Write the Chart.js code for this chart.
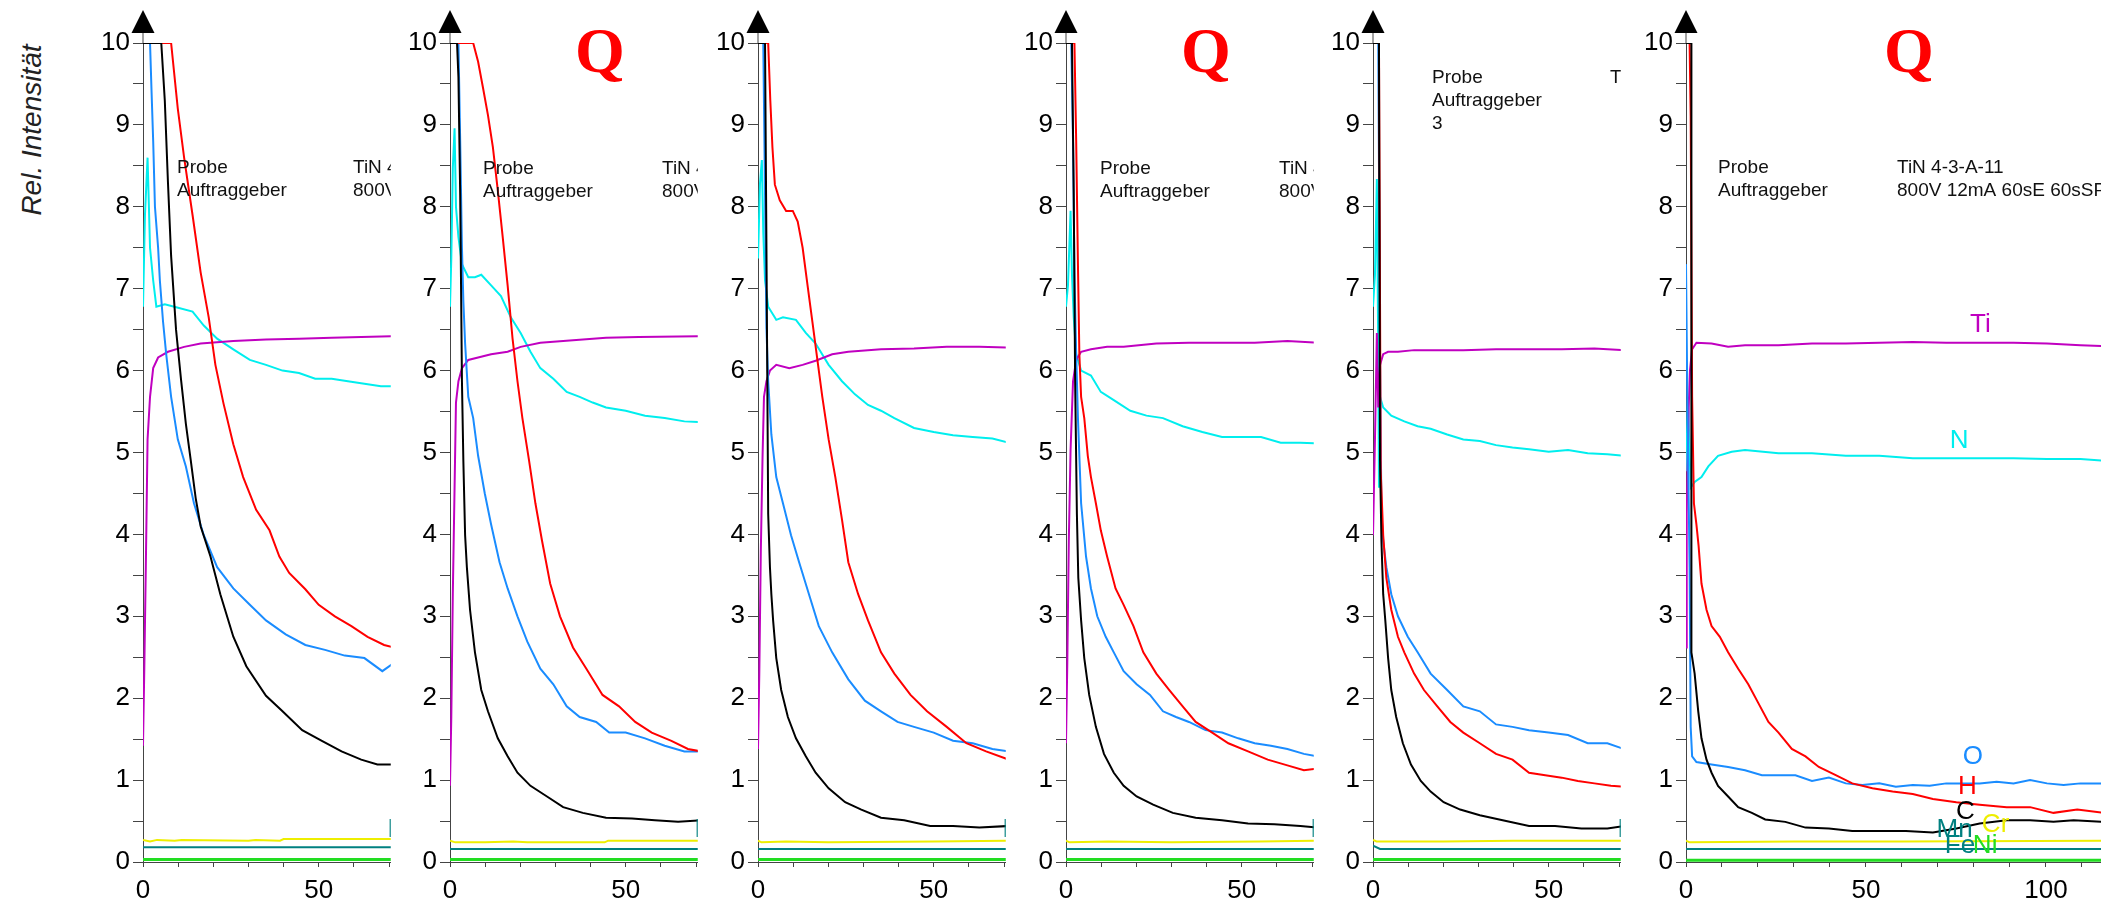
<!DOCTYPE html>
<html>
<head>
<meta charset="utf-8">
<script src="https://cdn.jsdelivr.net/npm/chart.js@4.4.1/dist/chart.umd.min.js"></script>
<style>
  body { margin: 0; background: #fff; width: 2101px; height: 907px; overflow: hidden; position: relative; }
  .panel { position: absolute; top: 0; }
  #ytitle {
    position: absolute; left: 32px; top: 130px;
    transform: translate(-50%, -50%) rotate(-90deg);
    font: italic 28px "Liberation Sans", Arial, sans-serif; color: #222; white-space: nowrap;
  }
</style>
</head>
<body>
<div id="ytitle">Rel. Intensität</div>
<script>
// Messwerte je Panel: [Zeit, rel. Intensität]
// Panel 1
const h1 = [[0,10],[8,10],[9.9,9.2],[11.7,8.6],[14.1,7.9],[16.4,7.2],[18.7,6.65],[20.6,6.07],[22.9,5.6],[25.7,5.1],[28.5,4.7],[32.2,4.3],[36,4.05],[38.8,3.73],[41.6,3.53],[46.2,3.33],[50,3.14],[54.6,3.0],[59.3,2.88],[63.9,2.75],[68.6,2.65],[71.4,2.62]];
const c1 = [[0,10],[5.2,10],[6.2,9.3],[7.1,8.3],[8,7.4],[9.4,6.5],[10.8,5.9],[12.2,5.35],[13.6,4.9],[15,4.44],[16.4,4.1],[19.2,3.73],[22,3.27],[25.7,2.75],[29.4,2.39],[35,2.03],[39.7,1.84],[45.3,1.61],[50.9,1.48],[56.5,1.35],[62.1,1.25],[66.7,1.19],[71.4,1.19]];
const o1 = [[0,10],[2,10],[2.4,9.45],[2.9,8.8],[3.4,8.0],[4.3,7.5],[4.8,7.1],[5.7,6.6],[6.6,6.2],[8,5.68],[9.9,5.16],[12.2,4.83],[14.5,4.38],[17.3,3.99],[21.1,3.6],[25.7,3.34],[30.4,3.14],[35,2.95],[40.6,2.78],[46.2,2.65],[51.8,2.59],[57.4,2.52],[63,2.49],[68.1,2.33],[71.4,2.43]];
const n1 = [[0,6.78],[0.56,7.9],[1.3,8.6],[2,7.5],[2.9,7.1],[3.8,6.78],[6.2,6.81],[8.9,6.78],[14.1,6.72],[17.3,6.55],[21.1,6.39],[25.7,6.26],[30.4,6.13],[35,6.07],[39.7,6.0],[44.4,5.97],[49,5.9],[53.7,5.9],[58.3,5.87],[63,5.84],[67.7,5.81],[71.4,5.81]];
const ti1 = [[0,1.42],[0.37,2.36],[0.8,3.6],[1.3,5.16],[2,5.68],[2.9,6.03],[4.3,6.16],[7.1,6.23],[11.7,6.29],[16.4,6.33],[25.7,6.36],[35,6.38],[44.4,6.39],[53.7,6.4],[71.4,6.42]];
const cr1 = [[0,0.27],[2,0.25],[4,0.27],[9,0.26],[11,0.27],[30,0.26],[32,0.27],[39,0.26],[40,0.28],[72,0.28]];
const mn1 = [[0,0.18],[72,0.18]];
const ni1 = [[0,0.03],[72,0.03]];

// Panel 2
const h2 = [[0,10],[6.6,10],[8,9.77],[9.4,9.45],[10.8,9.12],[12.2,8.73],[13.6,8.2],[15,7.63],[16.4,7.04],[17.8,6.39],[19.2,5.87],[20.6,5.42],[22.5,4.9],[24.3,4.38],[26.2,3.92],[28.5,3.4],[31.3,3.0],[35,2.62],[38.8,2.36],[43.4,2.04],[48.1,1.9],[52.7,1.71],[57.4,1.58],[63,1.48],[67.7,1.38],[71.4,1.35]];
const c2 = [[0,10],[2,10],[2.4,9.58],[2.9,8.15],[3.4,5.87],[3.8,4.9],[4.3,3.99],[4.8,3.6],[5.7,3.08],[7.1,2.56],[8.9,2.1],[10.8,1.84],[13.6,1.51],[16.4,1.29],[19.2,1.09],[22.9,0.93],[27.6,0.8],[32.2,0.67],[37.8,0.6],[44.4,0.54],[51.8,0.53],[58.3,0.51],[64.9,0.49],[71.4,0.51]];
const o2 = [[0,10],[2.4,10],[2.9,8.8],[3.4,7.5],[3.8,6.85],[4.3,6.33],[5.2,5.68],[6.6,5.42],[8,4.96],[9.9,4.5],[11.7,4.12],[14.1,3.66],[16.4,3.34],[19.2,3.0],[22,2.69],[25.7,2.36],[29.4,2.17],[33.2,1.9],[36.9,1.77],[41.6,1.71],[45.3,1.58],[50,1.58],[55.5,1.51],[61.1,1.42],[66.7,1.35],[71.4,1.35]];
const n2 = [[0,6.78],[0.37,7.37],[0.8,8.47],[1.3,8.96],[1.7,8.0],[2.4,7.63],[3.4,7.3],[5.2,7.14],[7.1,7.14],[8.9,7.17],[11.7,7.04],[14.5,6.91],[17.3,6.65],[20.1,6.46],[22.9,6.23],[25.7,6.03],[29.4,5.9],[33.2,5.74],[36.9,5.68],[40.6,5.61],[44.4,5.55],[50,5.51],[55.5,5.45],[61.1,5.42],[66.7,5.38],[71.4,5.37]];
const ti2 = [[0,0.93],[0.37,1.77],[0.8,3.27],[1.3,4.57],[1.7,5.61],[2.4,5.87],[3.4,6.03],[5.2,6.13],[8,6.16],[11.7,6.2],[16.4,6.23],[20.1,6.29],[25.7,6.34],[35,6.37],[44.4,6.4],[53.7,6.41],[71.4,6.42]];
const cr2 = [[0,0.26],[1.5,0.24],[10,0.24],[18,0.25],[22,0.24],[44,0.24],[45,0.26],[72,0.26]];
const mn2 = [[0,0.16],[72,0.16]];
const ni2 = [[0,0.03],[72,0.03]];

// Panel 3
const h3 = [[0,10],[2.9,10],[3.5,9.3],[4.1,8.73],[4.8,8.27],[6.2,8.08],[8,7.95],[9.9,7.95],[11.3,7.82],[12.7,7.5],[14.1,7.04],[15.5,6.59],[16.9,6.13],[18.3,5.68],[20.1,5.16],[22,4.7],[23.9,4.18],[25.7,3.66],[28.5,3.27],[31.3,2.95],[35,2.56],[38.8,2.3],[43.4,2.04],[48.1,1.84],[53.7,1.65],[59.3,1.45],[64.9,1.35],[71.4,1.25]];
const c3 = [[0,10],[2,10],[2.4,7.5],[2.9,4.25],[3.4,3.6],[3.8,3.27],[4.3,2.95],[5.2,2.49],[6.6,2.1],[8.5,1.77],[10.8,1.51],[13.6,1.29],[16.4,1.09],[20.1,0.9],[24.8,0.73],[29.4,0.64],[35,0.54],[41.6,0.51],[49,0.44],[55.5,0.44],[63,0.42],[71.4,0.44]];
const o3 = [[0,10],[1.5,10],[2,8.15],[2.4,6.52],[2.9,5.87],[3.8,5.22],[5.2,4.7],[7.1,4.38],[9.4,3.99],[11.7,3.66],[14.5,3.27],[17.3,2.88],[21.1,2.56],[25.7,2.23],[30.4,1.97],[35,1.84],[39.7,1.71],[44.4,1.65],[50,1.58],[55.5,1.48],[61.1,1.45],[66.7,1.38],[71.4,1.35]];
const n3 = [[0,7.37],[0.56,8.28],[1.1,8.57],[1.5,7.69],[2,7.1],[2.9,6.78],[5.2,6.62],[7.1,6.65],[10.8,6.62],[13.6,6.46],[16.4,6.33],[20.1,6.07],[23.9,5.87],[27.6,5.71],[31.3,5.58],[35,5.51],[38.8,5.42],[44.4,5.3],[50,5.25],[55.5,5.21],[61.1,5.19],[66.7,5.17],[71.4,5.12]];
const ti3 = [[0,1.38],[0.37,2.3],[0.8,3.79],[1.3,4.96],[1.7,5.68],[2.4,5.87],[3.4,6.0],[5.2,6.07],[8.9,6.03],[12.7,6.07],[16.4,6.12],[21.1,6.2],[25.7,6.23],[35,6.26],[44.4,6.27],[53.7,6.29],[63,6.29],[71.4,6.28]];
const cr3 = [[0,0.26],[1,0.24],[8,0.25],[20,0.24],[50,0.25],[72,0.26]];
const mn3 = [[0,0.16],[72,0.16]];
const ni3 = [[0,0.03],[72,0.03]];

// Panel 4
const h4 = [[0,10],[2.4,10],[2.9,8.8],[3.4,7.3],[3.8,6.2],[4.3,5.68],[5.2,5.42],[6.2,4.96],[7.1,4.7],[8.5,4.38],[9.9,4.05],[11.7,3.73],[14.1,3.34],[16.4,3.14],[19.2,2.88],[22,2.56],[25.7,2.3],[29.4,2.1],[33.2,1.9],[36.9,1.71],[41.6,1.58],[46.2,1.45],[51.8,1.35],[57.4,1.25],[63,1.18],[67.7,1.12],[71.4,1.14]];
const c4 = [[0,10],[1.7,10],[2.2,8.15],[2.6,5.87],[3.1,4.25],[3.5,3.47],[4.3,2.95],[5.2,2.49],[6.6,2.04],[8.5,1.65],[10.8,1.32],[13.6,1.09],[16.4,0.93],[20.1,0.8],[24.8,0.7],[30.4,0.6],[36.9,0.54],[44.4,0.51],[51.8,0.47],[59.3,0.46],[66.7,0.44],[71.4,0.42]];
const o4 = [[0,10],[1.5,10],[2,8.8],[2.4,7.17],[2.9,6.2],[3.4,5.42],[4.3,4.38],[5.7,3.73],[7.1,3.34],[8.9,3.0],[11.3,2.75],[13.6,2.56],[16.4,2.33],[20.1,2.17],[23.9,2.04],[27.6,1.84],[31.3,1.77],[35,1.71],[39.7,1.61],[44.4,1.58],[49,1.51],[53.7,1.45],[58.3,1.42],[63,1.38],[67.7,1.32],[71.4,1.29]];
const n4 = [[0,6.78],[0.56,7.04],[1.3,7.95],[1.7,7.17],[2.2,6.65],[2.9,6.2],[4.3,6.0],[7.1,5.94],[9.9,5.74],[13.6,5.64],[18.3,5.51],[22.9,5.45],[27.6,5.42],[33.2,5.32],[38.8,5.25],[44.4,5.19],[50,5.19],[55.5,5.19],[61.1,5.12],[66.7,5.12],[71.4,5.11]];
const ti4 = [[0,1.45],[0.37,2.43],[0.8,3.92],[1.3,5.03],[2,5.87],[2.9,6.13],[4.3,6.23],[7.1,6.26],[11.7,6.29],[16.4,6.29],[25.7,6.33],[35,6.34],[44.4,6.34],[53.7,6.34],[63,6.36],[71.4,6.34]];
const cr4 = [[0,0.26],[1,0.24],[12,0.25],[30,0.24],[55,0.25],[72,0.26]];
const mn4 = [[0,0.16],[72,0.16]];
const ni4 = [[0,0.03],[72,0.03]];

// Panel 5
const h5 = [[0,10],[1.7,10],[2.2,4.77],[2.9,3.99],[3.8,3.47],[5.2,3.08],[7.1,2.75],[8.9,2.56],[11.7,2.3],[14.5,2.1],[18.3,1.9],[22,1.71],[25.7,1.58],[30.4,1.45],[35,1.32],[39.7,1.25],[44.4,1.09],[49,1.06],[53.7,1.03],[58.3,0.99],[63,0.96],[67.7,0.93],[71.4,0.92]];
const c5 = [[0,10],[1.7,10],[2,4.9],[2.4,3.92],[2.9,3.27],[3.5,2.95],[4.3,2.49],[5.2,2.1],[6.6,1.77],[8.5,1.45],[10.8,1.19],[13.6,0.99],[16.4,0.86],[20.1,0.73],[24.8,0.64],[30.4,0.57],[36.9,0.51],[44.4,0.44],[51.8,0.44],[59.3,0.41],[66.7,0.41],[71.4,0.44]];
const o5 = [[0,10],[1.5,10],[2,6.2],[2.4,4.25],[2.9,3.92],[3.8,3.6],[5.2,3.27],[7.1,3.0],[9.9,2.75],[12.7,2.56],[16.4,2.3],[21.1,2.1],[25.7,1.9],[30.4,1.84],[35,1.68],[39.7,1.65],[44.4,1.61],[50,1.58],[55.5,1.55],[61.1,1.45],[66.7,1.45],[71.4,1.38]];
const n5 = [[0,6.78],[0.56,7.17],[1.1,8.34],[1.5,6.2],[1.7,4.57],[2,5.68],[2.9,5.55],[5.2,5.45],[8.9,5.38],[12.7,5.32],[16.4,5.29],[21.1,5.22],[25.7,5.16],[30.4,5.14],[35,5.09],[39.7,5.06],[44.4,5.04],[50,5.01],[55.5,5.03],[61.1,4.99],[66.7,4.98],[71.4,4.96]];
const ti5 = [[0,3.99],[0.56,5.16],[1.1,6.46],[1.5,5.55],[2,6.07],[2.9,6.2],[4.3,6.23],[7.1,6.23],[11.7,6.25],[16.4,6.25],[25.7,6.25],[35,6.26],[44.4,6.26],[53.7,6.26],[63,6.27],[71.4,6.25]];
const cr5 = [[0,0.27],[1,0.25],[20,0.25],[40,0.26],[72,0.26]];
const mn5 = [[0,0.2],[2,0.16],[72,0.16]];
const ni5 = [[0,0.03],[72,0.03]];

// Panel 6
const h6 = [[0,10],[1,10],[1.3,9.1],[1.7,5.68],[2.2,4.38],[2.9,4.12],[3.5,3.86],[4.3,3.4],[5.7,3.08],[7.1,2.88],[9.4,2.75],[11.7,2.56],[14.5,2.36],[17.3,2.17],[20.1,1.94],[22.9,1.71],[25.7,1.58],[29.4,1.38],[33.2,1.29],[36.9,1.16],[41.6,1.06],[46.2,0.96],[51.8,0.9],[57.4,0.86],[63,0.83],[68.6,0.77],[75.1,0.73],[81.6,0.7],[89.1,0.67],[95.6,0.67],[102.1,0.6],[108.7,0.64],[116,0.6]];
const c6 = [[0,10],[1.5,10],[1.5,2.56],[2.4,2.3],[3.4,1.84],[4.3,1.51],[5.7,1.25],[7.1,1.09],[8.9,0.93],[11.7,0.8],[14.5,0.67],[18.3,0.6],[22,0.52],[27.6,0.49],[33.2,0.42],[39.7,0.41],[46.2,0.38],[53.7,0.38],[61.1,0.38],[68.6,0.36],[75.1,0.41],[81.6,0.47],[89.1,0.51],[95.6,0.51],[102.1,0.49],[107.7,0.51],[116,0.49]];
const o6 = [[0,7.3],[0.37,5.68],[1,3.6],[1.3,1.65],[1.7,1.29],[2.9,1.22],[7.1,1.19],[11.7,1.16],[16.4,1.12],[21.1,1.06],[25.7,1.06],[30.4,1.06],[35,0.99],[39.7,1.03],[44.4,0.96],[49,0.94],[53.7,0.96],[58.3,0.92],[63,0.94],[67.7,0.93],[72.3,0.96],[77,0.96],[81.6,0.96],[86.3,0.98],[91,0.96],[95.6,1.0],[100.3,0.96],[104.9,0.94],[109.6,0.96],[116,0.96]];
const n6 = [[0,4.77],[0.56,5.68],[1.3,4.57],[2.4,4.64],[4.3,4.7],[6.2,4.83],[8.9,4.96],[12.7,5.01],[16.4,5.03],[25.7,4.99],[35,4.99],[44.4,4.96],[53.7,4.96],[63,4.93],[72.3,4.93],[81.6,4.93],[91,4.93],[100.3,4.92],[109.6,4.92],[116,4.9]];
const ti6 = [[0,2.62],[0.2,4.25],[0.75,5.55],[1.1,6.0],[1.7,6.26],[2.9,6.34],[7.1,6.33],[11.7,6.29],[16.4,6.31],[25.7,6.31],[35,6.33],[44.4,6.33],[53.7,6.34],[63,6.35],[72.3,6.34],[81.6,6.34],[91,6.34],[100.3,6.33],[109.6,6.31],[116,6.3]];
const cr6 = [[0,0.26],[1,0.24],[30,0.25],[60,0.25],[116,0.26]];
const mn6 = [[0,0.16],[116,0.16]];
const ni6 = [[0,0.02],[116,0.02]];

// Elementbeschriftung (x, y in Datenkoordinaten)
const elemNames = ['Ti', 'N', 'O', 'H', 'C', 'Mn', 'Cr', 'Fe', 'Ni'];
const elemLabelX = [78.9, 73.3, 76.9, 75.6, 75.0, 69.6, 82.2, 71.9, 79.7];
const elemLabelY = [6.56, 5.14, 1.28, 0.92, 0.61, 0.39, 0.45, 0.2, 0.2];

const probeKeys = ['Probe', 'Auftraggeber'];
const probeVals = ['TiN 4-3-A-11', '800V 12mA 60sE 60sSP'];

const xTickLabels = [0, 50, 100];
const yTickLabels = [0, 1, 2, 3, 4, 5, 6, 7, 8, 9, 10];

// Farben
const colors = {
  H: '#ff0000', C: '#000000', O: '#1a8cff', N: '#00eeee', Ti: '#c000c0',
  Cr: '#eeee00', Mn: '#008080', Fe: '#008080', Ni: '#22dd22'
};

// Layout der Panels (Pixel)
const PX_PER_UNIT = 3.6;
const axisX = [143, 450, 758, 1066, 1373, 1686];
const xMax = [70.5, 70.5, 70.5, 70.5, 70.5, 115.3];
const Y_AXIS_W = 60;

const panelData = [
  { H: h1, C: c1, O: o1, N: n1, Ti: ti1, Cr: cr1, Mn: mn1, Ni: ni1 },
  { H: h2, C: c2, O: o2, N: n2, Ti: ti2, Cr: cr2, Mn: mn2, Ni: ni2 },
  { H: h3, C: c3, O: o3, N: n3, Ti: ti3, Cr: cr3, Mn: mn3, Ni: ni3 },
  { H: h4, C: c4, O: o4, N: n4, Ti: ti4, Cr: cr4, Mn: mn4, Ni: ni4 },
  { H: h5, C: c5, O: o5, N: n5, Ti: ti5, Cr: cr5, Mn: mn5, Ni: ni5 },
  { H: h6, C: c6, O: o6, N: n6, Ti: ti6, Cr: cr6, Mn: mn6, Ni: ni6 }
];

// Kopftext je Panel
const infoLayout = [
  { lx: 34, vx: 210, y: 173, keys: probeKeys, vals: probeVals },
  { lx: 33, vx: 212, y: 174, keys: probeKeys, vals: probeVals },
  null,
  { lx: 34, vx: 213, y: 174, keys: probeKeys, vals: probeVals },
  { lx: 59, vx: 237, y: 83, keys: ['Probe', 'Auftraggeber', '3'], vals: ['TiN 4-3-A-11'] },
  { lx: 32, vx: 211, y: 173, keys: probeKeys, vals: probeVals }
];
const qCenterX = [null, 600, null, 1206, null, 1909];

const FONT = '"Liberation Sans", Arial, sans-serif';
Chart.defaults.font.family = FONT;
Chart.defaults.color = '#000';

// zeichnet Pfeil, Kopftext, Q und Elementnamen
const overlayPlugin = {
  id: 'overlay',
  afterDatasetsDraw(chart, args, opts) {
    const ctx = chart.ctx;
    const area = chart.chartArea;
    const i = opts.index;
    const ax = area.left;

    ctx.save();
    // Achsenpfeil
    ctx.strokeStyle = '#444';
    ctx.lineWidth = 1;
    ctx.beginPath();
    ctx.moveTo(ax, area.top);
    ctx.lineTo(ax, 33);
    ctx.stroke();
    ctx.fillStyle = '#000';
    ctx.beginPath();
    ctx.moveTo(ax - 11.5, 33);
    ctx.lineTo(ax + 11.5, 33);
    ctx.lineTo(ax, 10);
    ctx.closePath();
    ctx.fill();

    // alles weitere auf die Plotflaeche beschneiden
    ctx.beginPath();
    ctx.rect(area.left, 0, area.right - area.left, area.bottom);
    ctx.clip();

    const info = infoLayout[i];
    if (info) {
      ctx.font = '19px ' + FONT;
      ctx.fillStyle = '#111';
      ctx.textBaseline = 'alphabetic';
      ctx.textAlign = 'left';
      info.keys.forEach((k, j) => ctx.fillText(k, ax + info.lx, info.y + j * 23));
      info.vals.forEach((v, j) => ctx.fillText(v, ax + info.vx, info.y + j * 23));
    }

    if (qCenterX[i] !== null) {
      ctx.font = 'bold 64px "Liberation Serif", "Times New Roman", serif';
      ctx.fillStyle = '#ff0000';
      ctx.textAlign = 'center';
      ctx.textBaseline = 'alphabetic';
      ctx.fillText('Q', qCenterX[i] - (axisX[i] - Y_AXIS_W), 72);
    }

    const xs = chart.scales.x;
    const ys = chart.scales.y;
    ctx.font = '26px ' + FONT;
    ctx.textAlign = 'left';
    ctx.textBaseline = 'middle';
    elemNames.forEach((name, j) => {
      ctx.fillStyle = colors[name];
      ctx.fillText(name, xs.getPixelForValue(elemLabelX[j]), ys.getPixelForValue(elemLabelY[j]));
    });
    ctx.restore();
  }
};

function makeDataset(points, color, width) {
  return {
    data: points.map(p => ({ x: p[0], y: p[1] })),
    borderColor: color,
    borderWidth: width,
    pointRadius: 0,
    tension: 0,
    fill: false
  };
}

axisX.forEach((ax, i) => {
  const plotW = Math.round(xMax[i] * PX_PER_UNIT);
  const div = document.createElement('div');
  div.className = 'panel';
  div.style.left = (ax - Y_AXIS_W) + 'px';
  const canvas = document.createElement('canvas');
  canvas.width = Y_AXIS_W + plotW;
  canvas.height = 907;
  div.appendChild(canvas);
  document.body.appendChild(div);

  const d = panelData[i];
  new Chart(canvas, {
    type: 'line',
    data: {
      datasets: [
        makeDataset(d.C, colors.C, 2),
        makeDataset(d.H, colors.H, 2),
        makeDataset(d.O, colors.O, 2),
        makeDataset(d.Ti, colors.Ti, 2),
        makeDataset(d.N, colors.N, 2),
        makeDataset(d.Ni, colors.Ni, 3),
        makeDataset(d.Mn, colors.Mn, 2),
        makeDataset(d.Cr, colors.Cr, 2)
      ]
    },
    options: {
      responsive: false,
      animation: false,
      devicePixelRatio: 1,
      layout: { padding: { top: 43, left: 0, right: 0, bottom: 0 } },
      plugins: {
        legend: { display: false },
        tooltip: { enabled: false },
        overlay: { index: i }
      },
      scales: {
        x: {
          type: 'linear',
          min: 0,
          max: xMax[i],
          afterFit: s => { s.height = 45; },
          border: { color: '#444', width: 1 },
          grid: { drawOnChartArea: false, tickLength: 5, color: '#444' },
          ticks: {
            stepSize: 10,
            includeBounds: false,
            autoSkip: false,
            maxRotation: 0,
            padding: 8,
            font: { size: 26 },
            color: '#000',
            callback: v => xTickLabels.includes(v) ? String(v) : ''
          }
        },
        y: {
          min: 0,
          max: 10,
          afterFit: s => { s.width = Y_AXIS_W; },
          border: { color: '#444', width: 1 },
          grid: { drawOnChartArea: false, tickLength: 10, color: '#444' },
          ticks: {
            stepSize: 0.5,
            autoSkip: false,
            padding: 3,
            font: { size: 26 },
            color: '#000',
            callback: v => yTickLabels.includes(v) ? String(v) : ''
          }
        }
      }
    },
    plugins: [overlayPlugin]
  });
});
</script>
</body>
</html>
